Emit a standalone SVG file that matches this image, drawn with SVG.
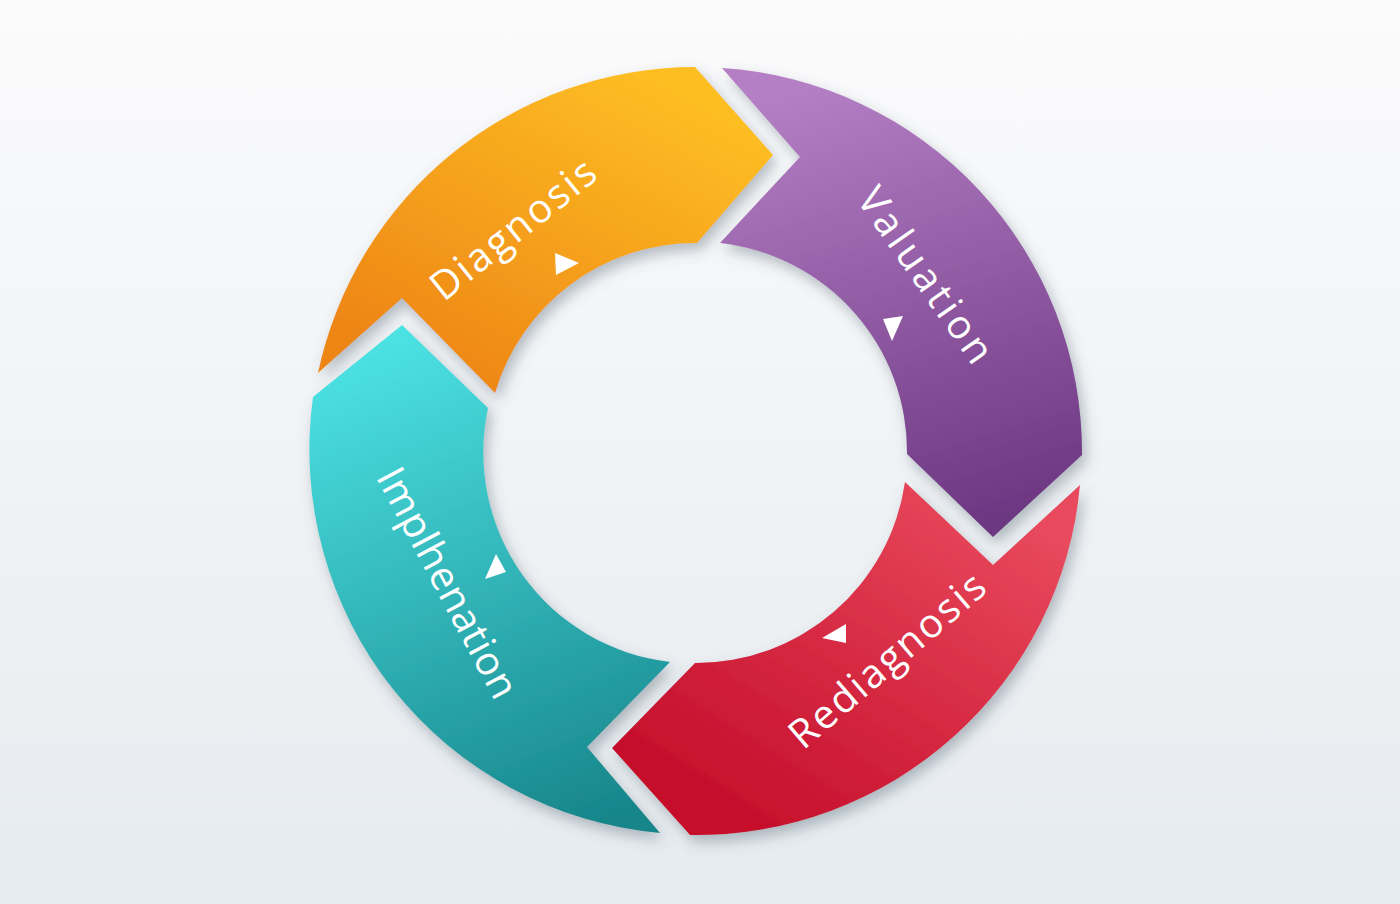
<svg xmlns="http://www.w3.org/2000/svg" width="1400" height="904" viewBox="0 0 1400 904">
  <defs>
    <linearGradient id="bg" x1="0" y1="0" x2="0" y2="1">
      <stop offset="0" stop-color="#FBFBFC"/>
      <stop offset="1" stop-color="#E6EBEF"/>
    </linearGradient>
    <linearGradient id="gOrange" gradientUnits="userSpaceOnUse" x1="640" y1="70" x2="470" y2="390">
      <stop offset="0" stop-color="#FDBE23"/>
      <stop offset="1" stop-color="#EE8616"/>
    </linearGradient>
    <linearGradient id="gPurple" gradientUnits="userSpaceOnUse" x1="820" y1="80" x2="960" y2="530">
      <stop offset="0" stop-color="#B47FC4"/>
      <stop offset="1" stop-color="#6D3782"/>
    </linearGradient>
    <linearGradient id="gRed" gradientUnits="userSpaceOnUse" x1="980" y1="480" x2="760" y2="830">
      <stop offset="0" stop-color="#E94A5D"/>
      <stop offset="1" stop-color="#C60F2C"/>
    </linearGradient>
    <linearGradient id="gTeal" gradientUnits="userSpaceOnUse" x1="380" y1="340" x2="580" y2="830">
      <stop offset="0" stop-color="#4CE2E4"/>
      <stop offset="1" stop-color="#17868B"/>
    </linearGradient>
    <filter id="shadow" x="-20%" y="-20%" width="140%" height="140%">
      <feDropShadow dx="4" dy="7" stdDeviation="7" flood-color="#4E5E6E" flood-opacity="0.4"/>
    </filter>
  </defs>
  <style>
    .seg { filter: url(#shadow); }
    .label { fill: #FFFFFF; font-family: "Open Sans", "Noto Sans", "DejaVu Sans", sans-serif; font-size: 40px; text-anchor: middle; dominant-baseline: central; }
    .tri { fill: #FFFFFF; }
  </style>
  <rect x="0" y="0" width="1400" height="904" fill="url(#bg)"/>

  <g id="diagnosis">
    <path class="seg" fill="url(#gOrange)" d="M 318,373 A 386 386 0 0 1 695,67 L 773,155 L 697,243 A 209 209 0 0 0 495,393 L 402,298 Z"/>
    <text class="label" x="512" y="228" transform="rotate(-38.7 512 228)" textLength="200" lengthAdjust="spacing">Diagnosis</text>
  </g>

  <g id="valuation">
    <path class="seg" fill="url(#gPurple)" d="M 722,68 A 385 385 0 0 1 1082,455 L 993,537 L 907,454 A 210 210 0 0 0 720,243 L 800,157 Z"/>
    <text class="label" x="927" y="274" transform="rotate(55 927 274)" textLength="205" lengthAdjust="spacing">Valuation</text>
  </g>

  <g id="rediagnosis">
    <path class="seg" fill="url(#gRed)" d="M 1080,485 A 385 385 0 0 1 690,835 L 612,748 L 695,663 A 211 211 0 0 0 905,482 L 993,565 Z"/>
    <text class="label" x="886" y="659" transform="rotate(-40.7 886 659)" textLength="245" lengthAdjust="spacing">Rediagnosis</text>
  </g>

  <g id="implementation">
    <path class="seg" fill="url(#gTeal)" d="M 660,833 A 385 385 0 0 1 313,397 L 402,325 L 488,408 A 211 211 0 0 0 670,662 L 587,747 Z"/>
    <text class="label" x="449" y="582" transform="rotate(62 449 582)" textLength="255" lengthAdjust="spacing">Implhenation</text>
  </g>

  <g id="connectors">
    <polygon class="tri" points="555,253 579,263 556,275"/>
    <polygon class="tri" points="883,319 903,316 892,341"/>
    <polygon class="tri" points="822,638 846,624 846,643"/>
    <polygon class="tri" points="496,554 506,572 485,579"/>
  </g>
</svg>
